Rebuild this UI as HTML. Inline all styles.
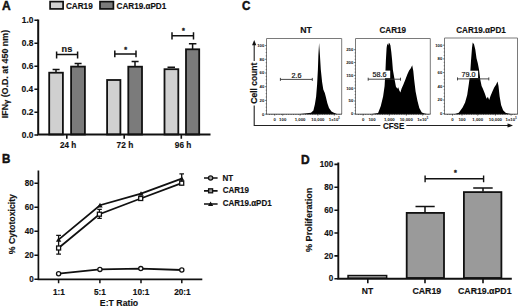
<!DOCTYPE html>
<html><head><meta charset="utf-8">
<style>
html,body{margin:0;padding:0;background:#fff;}
body{width:520px;height:308px;overflow:hidden;}
svg{display:block;font-weight:bold;}
text{font-family:"Liberation Sans",sans-serif;fill:#111;}
.n{font-weight:normal;}
</style></head><body>
<svg width="520" height="308" viewBox="0 0 520 308">
<rect width="520" height="308" fill="#fff"/>
<!-- A -->
<text transform="translate(2.10,10.15) scale(1,1.06)" font-size="12.00" stroke="#111" stroke-width="0.45">A</text>
<rect x="50.1" y="1.6" width="13" height="7.3" fill="#d0d0d0" stroke="#111" stroke-width="1.7"/>
<rect x="100" y="1.6" width="13.4" height="7.3" fill="#7b7b7b" stroke="#111" stroke-width="1.7"/>
<text transform="translate(65.91,9.00) scale(1,1.06)" font-size="8.19" stroke="#111" stroke-width="0.15">CAR19</text>
<text transform="translate(116.52,9.00) scale(1,1.06)" font-size="8.15" stroke="#111" stroke-width="0.15">CAR19.αPD1</text>
<g stroke="#111" stroke-width="1.8">
<rect x="49.20" y="72.70" width="13.70" height="61.80" fill="#d0d0d0" stroke-width="1.8"/>
<rect x="71.10" y="66.60" width="13.80" height="67.90" fill="#7b7b7b" stroke-width="1.8"/>
<rect x="107.10" y="80.00" width="13.30" height="54.50" fill="#d0d0d0" stroke-width="1.8"/>
<rect x="128.30" y="66.70" width="13.70" height="67.80" fill="#7b7b7b" stroke-width="1.8"/>
<rect x="164.50" y="69.20" width="13.80" height="65.30" fill="#d0d0d0" stroke-width="1.8"/>
<rect x="186.00" y="49.30" width="13.20" height="85.20" fill="#7b7b7b" stroke-width="1.8"/>
</g>
<g stroke="#111" fill="none">
<path d="M56 72V69.4M52.6 69.4H59.6M78 66V63.6M74.6 63.6H81.6M135 66V61.4M131.6 61.4H138.6M167.5 67.2H175M192.6 49V43.8M188.9 43.8H196.4" stroke-width="1.5"/>
<path d="M38.2 19.4V135.6M37.3 134.6H210.5" stroke-width="2"/>
<path d="M34.4 20.2H38M34.4 43.2H38M34.4 66.2H38M34.4 89.2H38M34.4 112.2H38M34.4 135H38M66.8 135V138.8M124.2 135V138.8M181.3 135V138.8" stroke-width="1.6"/>
<path d="M56.6 54.6H77.6M56.6 51.6V58.4M77.6 51.6V58.4M114.8 54H136M114.8 50.6V57.2M136 50.6V57.2M172 35.7H193.5M172 32.2V39.4M193.5 32.2V39.4" stroke-width="1.5"/>
</g>
<text transform="translate(21.87,22.95) scale(1,1.06)" font-size="8.40" stroke="#111" stroke-width="0.15">1.0</text>
<text transform="translate(21.78,45.95) scale(1,1.06)" font-size="8.40" stroke="#111" stroke-width="0.15">0.8</text>
<text transform="translate(21.83,68.95) scale(1,1.06)" font-size="8.40" stroke="#111" stroke-width="0.15">0.6</text>
<text transform="translate(21.57,91.95) scale(1,1.06)" font-size="8.40" stroke="#111" stroke-width="0.15">0.4</text>
<text transform="translate(21.86,114.95) scale(1,1.06)" font-size="8.40" stroke="#111" stroke-width="0.15">0.2</text>
<text transform="translate(21.87,137.75) scale(1,1.06)" font-size="8.40" stroke="#111" stroke-width="0.15">0.0</text>
<text transform="translate(59.97,148.45) scale(1,1.06)" font-size="8.14" stroke="#111" stroke-width="0.15">24 h</text>
<text transform="translate(116.59,148.45) scale(1,1.06)" font-size="8.33" stroke="#111" stroke-width="0.15">72 h</text>
<text transform="translate(174.86,148.45) scale(1,1.06)" font-size="8.24" stroke="#111" stroke-width="0.15">96 h</text>
<text transform="translate(61.55,52.00) scale(1,1.06)" font-size="9.15" stroke="#111" stroke-width="0.15">ns</text>
<text transform="translate(124.19,51.60) scale(1,1.06)" font-size="7.20" stroke="#222" stroke-width="0.35">*</text>
<text transform="translate(181.89,33.40) scale(1,1.06)" font-size="7.20" stroke="#222" stroke-width="0.35">*</text>
<text transform="translate(8.10,118.24) rotate(-90) scale(1,1.06)" font-size="8.87" stroke="#111" stroke-width="0.15">IFN<tspan font-size="0.85em" dy="0.6">γ</tspan><tspan dy="-0.6"> (O.D. at 450 nm)</tspan></text>
<!-- B -->
<text transform="translate(2.07,163.25) scale(1,1.06)" font-size="11.60" stroke="#111" stroke-width="0.45">B</text>
<g stroke="#111" fill="none">
<path d="M38.4 170.6V280.3M37.6 279.4H202.3" stroke-width="1.7"/>
<path d="M34.4 183.2H38M34.4 207.2H38M34.4 231.2H38M34.4 255.2H38M34.4 279.3H38M58.6 279.5V283.3M99.9 279.5V283.3M141 279.5V283.3M181.8 279.5V283.3" stroke-width="1.5"/>
<polyline points="58.6,239.6 100.0,205.2 141.0,193.6 181.7,178.6" stroke-width="1.8"/>
<polyline points="58.6,248.0 99.4,214.2 140.7,198.5 181.7,183.2" stroke-width="1.8"/>
<polyline points="58.6,273.7 99.9,269.4 140.8,268.6 181.8,270.0" stroke-width="1.8"/>
<path d="M58.6 235.4V254.2M56.2 235.4H61M56.2 254.2H61M99.4 209.3V218.4M97.3 209.3H101.8M97.3 218.4H101.8M181.7 173.9V185.6M179.4 173.9H184" stroke-width="1.3"/>
<g stroke-width="1.3" fill="#fff">
<circle cx="58.6" cy="273.7" r="2.1"/>
<circle cx="99.9" cy="269.4" r="2.1"/>
<circle cx="140.8" cy="268.6" r="2.1"/>
<circle cx="181.8" cy="270.0" r="2.1"/>
<rect x="56.6" y="246.0" width="4" height="4"/>
<rect x="97.4" y="212.2" width="4" height="4"/>
<rect x="138.7" y="196.5" width="4" height="4"/>
<rect x="179.7" y="181.2" width="4" height="4"/>
</g>
<g fill="#111" stroke="none">
<path d="M58.6 237.2L61.300000000000004 241.79999999999998H55.9Z"/>
<path d="M100.0 202.79999999999998L102.7 207.39999999999998H97.3Z"/>
<path d="M141.0 191.2L143.7 195.79999999999998H138.3Z"/>
<path d="M181.7 176.2L184.39999999999998 180.79999999999998H179.0Z"/>
</g>
<path d="M204 178H217.6M204 190.8H217.6M204 204H217.6" stroke-width="1.7"/>
<circle cx="210.6" cy="178" r="2.1" fill="#aaa" stroke-width="1.3"/>
<rect x="208.6" y="188.8" width="4" height="4" fill="#999" stroke-width="1.3"/>
<path d="M210.6 201.6L213.2 206H208Z" fill="#111" stroke="none"/>
</g>
<text transform="translate(24.77,185.95) scale(1,1.06)" font-size="8.10" stroke="#111" stroke-width="0.15">80</text>
<text transform="translate(24.77,209.95) scale(1,1.06)" font-size="8.10" stroke="#111" stroke-width="0.15">60</text>
<text transform="translate(24.77,233.95) scale(1,1.06)" font-size="8.10" stroke="#111" stroke-width="0.15">40</text>
<text transform="translate(24.77,257.95) scale(1,1.06)" font-size="8.10" stroke="#111" stroke-width="0.15">20</text>
<text transform="translate(29.28,282.05) scale(1,1.06)" font-size="8.10" stroke="#111" stroke-width="0.15">0</text>
<text transform="translate(52.89,294.60) scale(1,1.06)" font-size="8.25" stroke="#111" stroke-width="0.15">1:1</text>
<text transform="translate(93.88,294.60) scale(1,1.06)" font-size="8.25" stroke="#111" stroke-width="0.15">5:1</text>
<text transform="translate(132.85,294.60) scale(1,1.06)" font-size="8.25" stroke="#111" stroke-width="0.15">10:1</text>
<text transform="translate(174.17,294.60) scale(1,1.06)" font-size="8.25" stroke="#111" stroke-width="0.15">20:1</text>
<text transform="translate(99.87,306.00) scale(1,1.06)" font-size="8.73" stroke="#111" stroke-width="0.15">E:T Ratio</text>
<text transform="translate(222.51,180.60) scale(1,1.06)" font-size="8.00" stroke="#111" stroke-width="0.15">NT</text>
<text transform="translate(222.72,193.40) scale(1,1.06)" font-size="8.03" stroke="#111" stroke-width="0.15">CAR19</text>
<text transform="translate(222.72,205.70) scale(1,1.06)" font-size="8.00" stroke="#111" stroke-width="0.15">CAR19.αPD1</text>
<text transform="translate(15.10,254.22) rotate(-90) scale(1,1.06)" font-size="8.75" stroke="#111" stroke-width="0.15">% Cytotoxicity</text>
<!-- C -->
<text transform="translate(241.97,10.30) scale(1,1.06)" font-size="11.60" stroke="#111" stroke-width="0.45">C</text>
<text transform="translate(300.16,33.15) scale(1,1.06)" font-size="8.76" stroke="#111" stroke-width="0.15">NT</text>
<text transform="translate(379.42,33.00) scale(1,1.06)" font-size="8.12" stroke="#111" stroke-width="0.15">CAR19</text>
<text transform="translate(456.22,33.00) scale(1,1.06)" font-size="8.12" stroke="#111" stroke-width="0.15">CAR19.αPD1</text>
<g fill="#000">
<path d="M300 114L305 113.6L311 112.8L313.4 110.4L314.9 104.2L316.1 96.8L317.1 84.4L317.9 69.6L318.4 54.8L319.1 43L319.9 54.8L320.8 69.6L322.1 82L323.3 89.4L324.8 93.1L325.8 96.8L327.3 103L329 107.9L331.5 111.6L333.9 112.8L337 114Z"/>
<path d="M372 114L378.1 112.9L380.8 106.1L383.1 96.5L384.6 86L385.4 72L385.9 60L386.6 48L387.3 43.6L388.2 45.4L388.9 42.8L389.6 43.4L390.4 45.2L391.3 52L392.1 60L392.9 70L394.5 79L395.9 86.5L397.3 88.8L398.2 87.2L399.2 90.2L400.4 92.5L401.6 88.4L403.3 84.8L405.4 79.5L407.3 74.6L409.1 70.6L410.8 68.2L412.2 65.2L413.3 70.9L414.2 80L415.6 91.5L417.5 101L419.3 108L421.8 112.5L424.5 113.6L427 114Z"/>
<path d="M455 114L458.8 112.7L462.6 107.6L465.1 102.6L467.2 95L468.9 83.6L470.2 73.4L471 60.8L472 48.1L472.7 42.6L474 44.3L475.3 49.4L476.5 58.3L477.8 63.3L479 69.6L480.3 79.8L481.6 86.1L482.8 88.6L484.9 93.7L486.6 98.8L487.9 96.7L489.2 100L490.4 96.2L492.5 91.2L494.2 87.4L496 84.8L497.5 81.5L498.5 86.1L499.6 96.2L501.1 105.1L503.1 110.2L505.6 112.7L508.2 113.4L511 114Z"/>
</g>
<g fill="none" stroke="#7a7a7a" stroke-width="1">
<path d="M266.5 114V38.5H341.7V114"/>
<path d="M355.5 114V38.5H430.3V114"/>
<path d="M444.5 114V38H517.5V114"/>
</g>
<g fill="none" stroke="#222" stroke-width="0.8">
<path d="M266 114.2H342M355 114.2H430.6M444 114.2H517.8"/>
<path d="M265.0 45.6H266.5M265.0 59.3H266.5M265.0 73.0H266.5M265.0 86.7H266.5M265.0 100.4H266.5M265.0 114.1H266.5M265.7 49.0H266.5M265.7 52.5H266.5M265.7 55.9H266.5M265.7 62.7H266.5M265.7 66.2H266.5M265.7 69.6H266.5M265.7 76.4H266.5M265.7 79.8H266.5M265.7 83.3H266.5M265.7 90.1H266.5M265.7 93.6H266.5M265.7 97.0H266.5M265.7 103.8H266.5M265.7 107.2H266.5M265.7 110.7H266.5M274.7 114.2V115.7M282.7 114.2V115.7M300.1 114.2V115.7M317.9 114.2V115.7M334.3 114.2V115.7M269.5 114.2V115.0M271.9 114.2V115.0M274.3 114.2V115.0M276.7 114.2V115.0M279.1 114.2V115.0M281.5 114.2V115.0M283.9 114.2V115.0M286.3 114.2V115.0M288.7 114.2V115.0M291.1 114.2V115.0M293.5 114.2V115.0M295.9 114.2V115.0M298.3 114.2V115.0M300.7 114.2V115.0M303.1 114.2V115.0M305.5 114.2V115.0M307.9 114.2V115.0M310.3 114.2V115.0M312.7 114.2V115.0M315.1 114.2V115.0M317.5 114.2V115.0M319.9 114.2V115.0M322.3 114.2V115.0M324.7 114.2V115.0M327.1 114.2V115.0M329.5 114.2V115.0M331.9 114.2V115.0M334.3 114.2V115.0M336.7 114.2V115.0M339.1 114.2V115.0M354.0 49.7H355.5M354.0 62.5H355.5M354.0 75.4H355.5M354.0 88.2H355.5M354.0 101.0H355.5M354.0 113.9H355.5M354.7 52.9H355.5M354.7 56.1H355.5M354.7 59.3H355.5M354.7 65.7H355.5M354.7 69.0H355.5M354.7 72.2H355.5M354.7 78.6H355.5M354.7 81.8H355.5M354.7 85.0H355.5M354.7 91.4H355.5M354.7 94.6H355.5M354.7 97.8H355.5M354.7 104.2H355.5M354.7 107.5H355.5M354.7 110.7H355.5M363.1 114.2V115.7M372.0 114.2V115.7M389.3 114.2V115.7M406.3 114.2V115.7M422.7 114.2V115.7M358.5 114.2V115.0M360.9 114.2V115.0M363.3 114.2V115.0M365.7 114.2V115.0M368.1 114.2V115.0M370.5 114.2V115.0M372.9 114.2V115.0M375.3 114.2V115.0M377.7 114.2V115.0M380.1 114.2V115.0M382.5 114.2V115.0M384.9 114.2V115.0M387.3 114.2V115.0M389.7 114.2V115.0M392.1 114.2V115.0M394.5 114.2V115.0M396.9 114.2V115.0M399.3 114.2V115.0M401.7 114.2V115.0M404.1 114.2V115.0M406.5 114.2V115.0M408.9 114.2V115.0M411.3 114.2V115.0M413.7 114.2V115.0M416.1 114.2V115.0M418.5 114.2V115.0M420.9 114.2V115.0M423.3 114.2V115.0M425.7 114.2V115.0M428.1 114.2V115.0M443.0 45.2H444.5M443.0 58.9H444.5M443.0 72.6H444.5M443.0 86.3H444.5M443.0 100.0H444.5M443.0 113.7H444.5M443.7 48.6H444.5M443.7 52.0H444.5M443.7 55.5H444.5M443.7 62.3H444.5M443.7 65.8H444.5M443.7 69.2H444.5M443.7 76.0H444.5M443.7 79.4H444.5M443.7 82.9H444.5M443.7 89.7H444.5M443.7 93.2H444.5M443.7 96.6H444.5M443.7 103.4H444.5M443.7 106.8H444.5M443.7 110.3H444.5M452.5 114.2V115.7M462.0 114.2V115.7M477.7 114.2V115.7M495.4 114.2V115.7M511.1 114.2V115.7M447.5 114.2V115.0M449.9 114.2V115.0M452.3 114.2V115.0M454.7 114.2V115.0M457.1 114.2V115.0M459.5 114.2V115.0M461.9 114.2V115.0M464.3 114.2V115.0M466.7 114.2V115.0M469.1 114.2V115.0M471.5 114.2V115.0M473.9 114.2V115.0M476.3 114.2V115.0M478.7 114.2V115.0M481.1 114.2V115.0M483.5 114.2V115.0M485.9 114.2V115.0M488.3 114.2V115.0M490.7 114.2V115.0M493.1 114.2V115.0M495.5 114.2V115.0M497.9 114.2V115.0M500.3 114.2V115.0M502.7 114.2V115.0M505.1 114.2V115.0M507.5 114.2V115.0M509.9 114.2V115.0M512.3 114.2V115.0M514.7 114.2V115.0" stroke-width="0.6"/>
</g>
<g font-size="4.3" style="fill:#333">
<text x="264.3" y="47.0" text-anchor="end">100</text>
<text x="264.3" y="60.7" text-anchor="end">80</text>
<text x="264.3" y="74.4" text-anchor="end">60</text>
<text x="264.3" y="88.1" text-anchor="end">40</text>
<text x="264.3" y="101.8" text-anchor="end">20</text>
<text x="264.3" y="115.5" text-anchor="end">0</text>
<text x="274.7" y="120.6" text-anchor="middle">0</text>
<text x="282.7" y="120.6" text-anchor="middle">100</text>
<text x="300.1" y="120.6" text-anchor="middle">1,000</text>
<text x="317.9" y="120.6" text-anchor="middle">10,000</text>
<text x="334.3" y="120.6" text-anchor="middle">1x10<tspan font-size="2.6" dy="-1.5">5</tspan></text>
<text x="353.3" y="51.1" text-anchor="end">250</text>
<text x="353.3" y="63.9" text-anchor="end">200</text>
<text x="353.3" y="76.8" text-anchor="end">150</text>
<text x="353.3" y="89.6" text-anchor="end">100</text>
<text x="353.3" y="102.4" text-anchor="end">50</text>
<text x="353.3" y="115.3" text-anchor="end">0</text>
<text x="363.1" y="120.6" text-anchor="middle">0</text>
<text x="372.0" y="120.6" text-anchor="middle">100</text>
<text x="389.3" y="120.6" text-anchor="middle">1,000</text>
<text x="406.3" y="120.6" text-anchor="middle">10,000</text>
<text x="422.7" y="120.6" text-anchor="middle">1x10<tspan font-size="2.6" dy="-1.5">5</tspan></text>
<text x="442.3" y="46.6" text-anchor="end">100</text>
<text x="442.3" y="60.3" text-anchor="end">80</text>
<text x="442.3" y="74.0" text-anchor="end">60</text>
<text x="442.3" y="87.7" text-anchor="end">40</text>
<text x="442.3" y="101.4" text-anchor="end">20</text>
<text x="442.3" y="115.1" text-anchor="end">0</text>
<text x="452.5" y="120.6" text-anchor="middle">0</text>
<text x="462.0" y="120.6" text-anchor="middle">100</text>
<text x="477.7" y="120.6" text-anchor="middle">1,000</text>
<text x="495.4" y="120.6" text-anchor="middle">10,000</text>
<text x="511.1" y="120.6" text-anchor="middle">1x10<tspan font-size="2.6" dy="-1.5">5</tspan></text>
</g>
<rect x="370.8" y="70.6" width="19.4" height="7.6" fill="#fff"/>
<rect x="458.3" y="70.7" width="19.8" height="7.3" fill="#fff"/>
<g stroke="#333" stroke-width="0.9" fill="none">
<path d="M280.4 79.4H312.3M280.4 77.9V80.9M312.3 77.9V80.9"/>
<path d="M368.2 79.2H400.5M368.2 77.7V80.7M400.5 77.7V80.7"/>
<path d="M457.5 78.9H488.8M457.5 77.4V80.4M488.8 77.4V80.4"/>
</g>
<g font-size="7.2" text-anchor="middle" class="n" style="fill:#111" stroke="#111" stroke-width="0.2">
<text x="296.5" y="77.5">2.6</text>
<text x="379.5" y="77.2">58.6</text>
<text x="468.4" y="77.1">79.0</text>
</g>
<g stroke="#222" stroke-width="1.1" fill="none">
<path d="M254.2 44V61M254.2 105.5V125.5H380.4M406.3 125.5H508"/>
</g>
<path d="M254.2 40L252.1 45.2H256.3Z" fill="#111"/>
<path d="M513 125.5L507.5 123.4V127.6Z" fill="#111"/>
<text transform="translate(257.30,103.70) rotate(-90) scale(1,1.06)" font-size="8.49" stroke="#111" stroke-width="0.15">Cell count</text>
<text transform="translate(382.92,128.75) scale(1,1.06)" font-size="8.04" stroke="#111" stroke-width="0.15">CFSE</text>
<!-- D -->
<text transform="translate(300.95,163.90) scale(1,1.06)" font-size="12.00" stroke="#111" stroke-width="0.45">D</text>
<g stroke="#111" fill="none">
<rect x="406.70" y="212.90" width="37.30" height="65.10" fill="#9a9a9a" stroke-width="1.8"/>
<rect x="463.90" y="192.10" width="37.50" height="85.90" fill="#9a9a9a" stroke-width="1.8"/>
<rect x="347.3" y="274.8" width="40.1" height="4" fill="#111" stroke="none"/>
<rect x="348.8" y="276.1" width="37.1" height="1.5" fill="#9a9a9a" stroke="none"/>
<path d="M425 212V206.4M415.5 206.4H434.7M483 191.5V187.9M473.2 187.9H492.7" stroke-width="1.5"/>
<path d="M338.3 162.4V279.6M337.5 278.7H511.8" stroke-width="1.9"/>
<path d="M334.4 164.4H338M334.4 187.3H338M334.4 210.2H338M334.4 233.0H338M334.4 255.9H338M334.4 278.7H338M367.8 278.8V283.2M425 278.8V283.2M483 278.8V283.2" stroke-width="1.6"/>
<path d="M425.1 178.7H483.6M425.1 175.4V182.2M483.6 175.4V182.2" stroke-width="1.4"/>
</g>
<text transform="translate(319.82,167.15) scale(1,1.06)" font-size="8.10" stroke="#111" stroke-width="0.15">100</text>
<text transform="translate(324.32,190.05) scale(1,1.06)" font-size="8.10" stroke="#111" stroke-width="0.15">80</text>
<text transform="translate(324.32,212.95) scale(1,1.06)" font-size="8.10" stroke="#111" stroke-width="0.15">60</text>
<text transform="translate(324.32,235.75) scale(1,1.06)" font-size="8.10" stroke="#111" stroke-width="0.15">40</text>
<text transform="translate(324.32,258.65) scale(1,1.06)" font-size="8.10" stroke="#111" stroke-width="0.15">20</text>
<text transform="translate(328.83,281.45) scale(1,1.06)" font-size="8.10" stroke="#111" stroke-width="0.15">0</text>
<text transform="translate(361.78,294.00) scale(1,1.06)" font-size="8.52" stroke="#111" stroke-width="0.15">NT</text>
<text transform="translate(412.39,294.10) scale(1,1.06)" font-size="8.81" stroke="#111" stroke-width="0.15">CAR19</text>
<text transform="translate(457.99,294.10) scale(1,1.06)" font-size="8.77" stroke="#111" stroke-width="0.15">CAR19.αPD1</text>
<text transform="translate(454.09,174.60) scale(1,1.06)" font-size="7.20" stroke="#222" stroke-width="0.35">*</text>
<text transform="translate(311.70,252.08) rotate(-90) scale(1,1.06)" font-size="9.14" stroke="#111" stroke-width="0.15">% Proliferation</text>
</svg>
</body></html>
